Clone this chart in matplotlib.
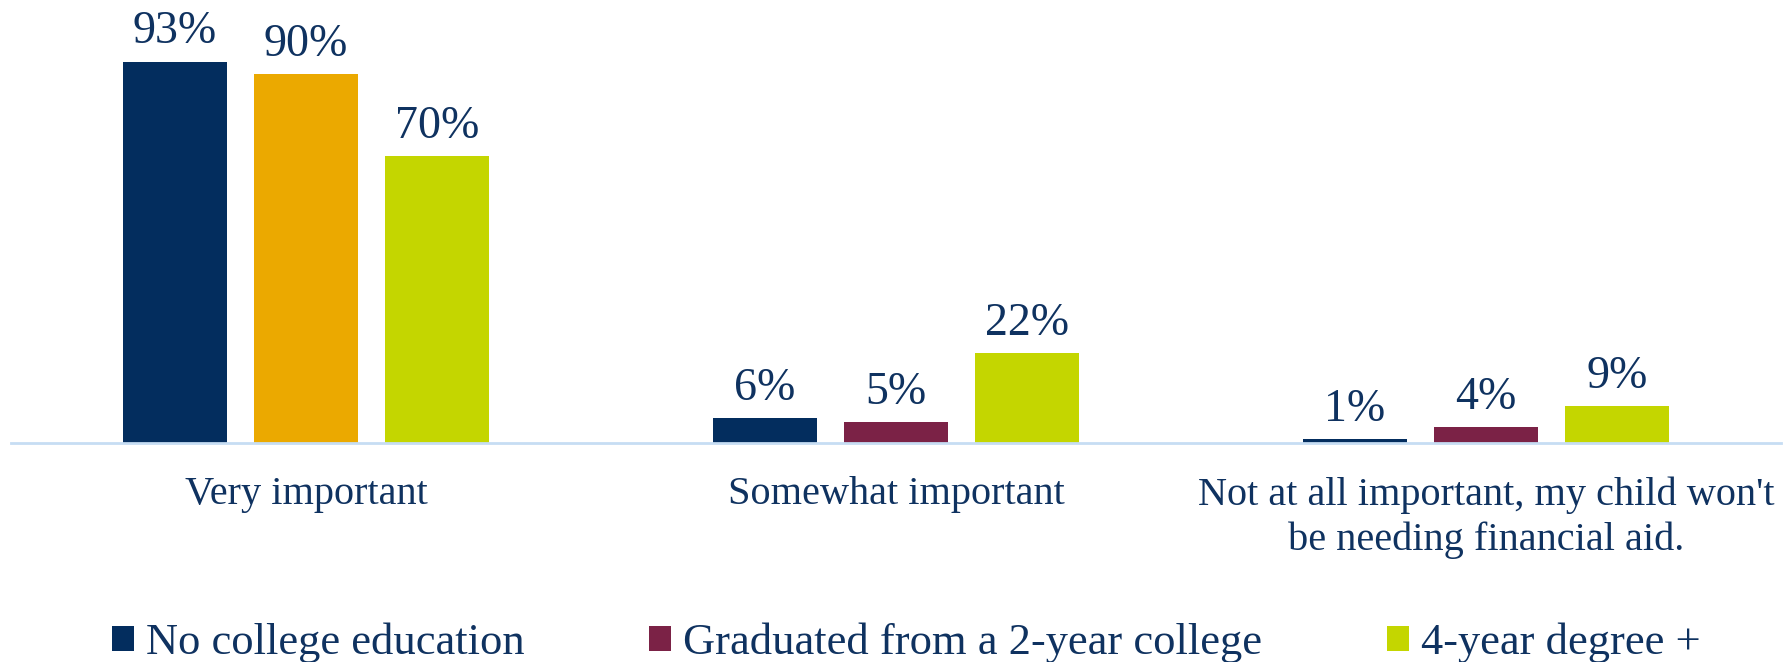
import matplotlib
matplotlib.use("Agg")
import matplotlib.pyplot as plt
from matplotlib.patches import Patch
import numpy as np

# Survey data: importance of financial aid by parents' education
categories = [
    "Very important",
    "Somewhat important",
    "Not at all important, my child won't\nbe needing financial aid.",
]
series_names = [
    "No college education",
    "Graduated from a 2-year college",
    "4-year degree +",
]
no_college = [93, 6, 1]
two_year = [90, 5, 4]
four_year = [70, 22, 9]
values = [no_college, two_year, four_year]

series_colors = ["#032D5E", "#7B2246", "#C4D600"]
# the 2-year bar of the first group is drawn in orange
highlight = {(1, 0): "#EBA900"}

text_color = "#0F3260"
font = "Liberation Serif"

fig = plt.figure(figsize=(17.85, 6.62), dpi=100)
ax = fig.add_axes([11 / 1785, 219 / 662, 1770 / 1785, 443 / 662])

x = np.arange(len(categories))
bar_w = 0.176
step = 0.222
for i, (vals, col) in enumerate(zip(values, series_colors)):
    cols = [highlight.get((i, j), col) for j in range(len(vals))]
    bars = ax.bar(x + (i - 1) * step, vals, width=bar_w, color=cols, zorder=2)
    for b, v in zip(bars, vals):
        ax.annotate(f"{v}%", (b.get_x() + b.get_width() / 2, v),
                    xytext=(0, 13), textcoords="offset points",
                    ha="center", va="baseline", fontsize=33,
                    family=font, color=text_color)

ax.set_xlim(-0.5, 2.5)
ax.set_ylim(0, 108)
ax.set_xticks(x)
ax.set_xticklabels(categories, fontsize=29, family=font, color=text_color,
                   linespacing=1.25)
ax.tick_params(axis="x", length=0, pad=24)
ax.set_yticks([])
for s in ["top", "left", "right"]:
    ax.spines[s].set_visible(False)
ax.spines["bottom"].set_color("#C6DDF3")
ax.spines["bottom"].set_linewidth(2)

handles = [Patch(facecolor=c) for c in series_colors]
fig.legend(handles, series_names, loc="center left",
           bbox_to_anchor=(112 / 1785, 19 / 662), ncol=3, frameon=False,
           prop={"family": font, "size": 32}, labelcolor=text_color,
           handlelength=0.5, handleheight=0.5, handletextpad=0.27,
           columnspacing=2.8, borderpad=0, borderaxespad=0)

fig.savefig("out.png", dpi=100, facecolor="white")
